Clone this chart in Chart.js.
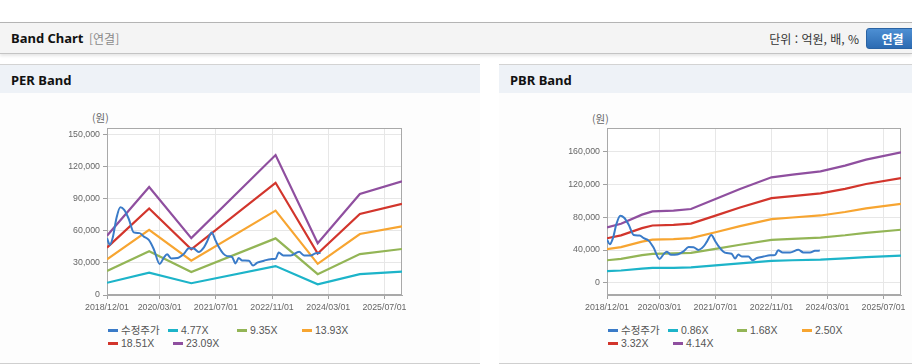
<!DOCTYPE html>
<html lang="ko">
<head>
<meta charset="utf-8">
<script src="https://cdn.jsdelivr.net/npm/chart.js@4.4.0/dist/chart.umd.min.js"></script>
<style>
  body { margin: 0; width: 912px; height: 364px; position: relative; overflow: hidden; background: #fff;
         font-family: "Liberation Sans", "Noto Sans CJK KR", sans-serif; }
  .abs { position: absolute; }
  .topbar { left: 0; top: 22px; width: 912px; height: 30px; background: #f4f4f4;
            border-top: 1px solid #b4b4b4; border-bottom: 1px solid #c4c4c4; box-shadow: 0 2px 3px rgba(0,0,0,0.10); }
  .title { left: 11px; top: 0; font: bold 13px "Noto Sans", "Noto Sans CJK KR", sans-serif; line-height: 31px; color: #111; }
  .sub { left: 89px; top: 0; font: 12px "Noto Sans CJK KR", sans-serif; line-height: 31px; color: #8a8a8a; }
  .unit { right: 53px; top: 0; font: 12px "Noto Sans CJK KR", sans-serif; line-height: 31px; color: #333; }
  .btn { left: 866px; top: 5px; width: 51px; height: 19px; border-radius: 3px; border: 1px solid #2a63a3;
         background: linear-gradient(#4d8fd3, #2c6bb2); color: #fff; font: bold 12px "Noto Sans CJK KR", sans-serif;
         text-align: center; line-height: 19px; }
  .panel { top: 64px; height: 298px; border-top: 1px solid #d3d3d3; border-bottom: 1px solid #cfcfcf; background: #fdfdfd; }
  .phead { left: 0; top: 0; right: 0; height: 28px; background: #eef2f7; }
  .phead span { position: absolute; left: 11px; top: 0; font: bold 13px "Noto Sans", sans-serif; line-height: 30px; color: #111; }
  .unitlbl { font: 10.5px "Noto Sans CJK KR", sans-serif; color: #666; }
  .leg { font: 10.5px "Liberation Sans", "Noto Sans CJK KR", sans-serif; color: #555; white-space: nowrap; line-height: 12px; }
  .leg i { display: inline-block; width: 10px; height: 3px; vertical-align: middle; margin-right: 3px; position: relative; top: -1px; }
  canvas { position: absolute; }
</style>
</head>
<body>
<div class="abs topbar">
  <div class="abs title">Band Chart</div>
  <div class="abs sub">[연결]</div>
  <div class="abs unit">단위 : 억원, 배, %</div>
  <div class="abs btn">연결</div>
</div>

<div class="abs panel" style="left:0;width:480px;"><div class="abs phead"><span>PER Band</span></div></div>
<div class="abs panel" style="left:499px;width:413px;"><div class="abs phead"><span>PBR Band</span></div></div>

<div class="abs unitlbl" style="left:92px;top:110px;">(원)</div>
<div class="abs unitlbl" style="left:592px;top:111px;">(원)</div>

<canvas id="perChart" width="480" height="230" style="left:0;top:93px;"></canvas>
<canvas id="pbrChart" width="413" height="230" style="left:499px;top:93px;"></canvas>

<div id="perLegend"></div>
<div id="pbrLegend"></div>

<script>
// x values are months counted from 2018/12/01
const xTickLabels = ["2018/12/01", "2020/03/01", "2021/07/01", "2022/11/01", "2024/03/01", "2025/07/01"];

// adjusted price (수정주가)
const priceMonths = [0, 0.8, 1.7, 2.7, 3.8, 4.9, 6.2, 7.6, 9.3, 10.5, 11.9, 13.3, 15.0, 16.2, 17.1, 18.3,
  20.0, 21.9, 23.3, 24.7, 26.1, 27.6, 28.5, 29.8, 30.9, 31.8, 33.1, 34.2, 35.6, 36.6, 37.5, 38.5,
  40.4, 41.6, 42.8, 44.7, 46.6, 48.0, 48.9, 50.2, 52.3, 54.7, 56.1, 58.0, 59.4, 60.8];
const priceValues = [53000, 47000, 54500, 72000, 82000, 79500, 71000, 58500, 57800, 54500, 51500, 43000, 29000, 35000, 38000, 34200,
  34500, 38500, 43600, 43400, 40200, 44500, 50000, 58500, 51000, 45000, 38600, 36300, 35500, 29500, 34500, 32200,
  32000, 27500, 30200, 32000, 33500, 33800, 39600, 37000, 37000, 40300, 37000, 37000, 39000, 39300];

// PER band
const perLabels = ["4.77X", "9.35X", "13.93X", "18.51X", "23.09X"];
const perMonths = [0, 12, 24, 48, 60, 72, 84];
const per477 = [11400, 20800, 11000, 27000, 10000, 19500, 21900];
const per935 = [22400, 40900, 21500, 52900, 19500, 38200, 43000];
const per1393 = [33400, 60900, 32000, 78800, 29100, 57000, 64100];
const per1851 = [44300, 80900, 42600, 104800, 38700, 75700, 85100];
const per2309 = [55300, 100900, 53100, 130700, 48300, 94400, 106200];
const perYTicks = [0, 30000, 60000, 90000, 120000, 150000];

// PBR band
const pbrLabels = ["0.86X", "1.68X", "2.50X", "3.32X", "4.14X"];
const pbrMonths = [0, 4, 10, 13, 19, 24, 31, 38, 47, 53, 61, 68, 74, 84];
const pbr086 = [14100, 15000, 17300, 18100, 18300, 18700, 21300, 23800, 26800, 27500, 28300, 29800, 31300, 33200];
const pbr168 = [27500, 29300, 33800, 35400, 35800, 36600, 41500, 46500, 52400, 53600, 55300, 58100, 61100, 64800];
const pbr250 = [41000, 43600, 50300, 52700, 53300, 54500, 61800, 69300, 77900, 79800, 82300, 86500, 91000, 96400];
const pbr332 = [54400, 57900, 66800, 70000, 70700, 72300, 82100, 92000, 103500, 106000, 109300, 114900, 120800, 128000];
const pbr414 = [67800, 72200, 83300, 87300, 88200, 90200, 102400, 114700, 129000, 132200, 136300, 143300, 150600, 159600];
const pbrYTicks = [0, 40000, 80000, 120000, 160000];

const priceColor = "#3a7bc8";
const bandColors = ["#1db4c9", "#93b556", "#f7a531", "#d2352c", "#8f4f9f"];
const tickFont = { family: "Liberation Sans", size: 8.8 };

function labelToMonth(label) {
  const p = label.split("/");
  return (parseInt(p[0]) - 2018) * 12 + parseInt(p[1]) - 12;
}

function toPoints(xs, ys) {
  return xs.map((x, i) => ({ x: x, y: ys[i] }));
}

const plotFrame = {
  id: "plotFrame",
  beforeDraw(chart) {
    const a = chart.chartArea;
    chart.ctx.save();
    chart.ctx.fillStyle = "#ffffff";
    chart.ctx.fillRect(a.left, a.top, a.right - a.left, a.bottom - a.top);
    chart.ctx.restore();
  },
  beforeDatasetsDraw(chart) {
    const a = chart.chartArea;
    const ctx = chart.ctx;
    ctx.save();
    ctx.strokeStyle = "#a9a9a9";
    ctx.lineWidth = 1;
    ctx.strokeRect(Math.round(a.left) + 0.5, Math.round(a.top) + 0.5, Math.round(a.right - a.left) - 1, Math.round(a.bottom - a.top) - 1);
    ctx.restore();
  }
};

function createChart(id, bandMonths, bandData, bandLabels, yMin, yMax, yTicks, axisWidth, rightPad) {
  const datasets = [{
    label: "수정주가",
    data: toPoints(priceMonths, priceValues),
    borderColor: priceColor,
    borderWidth: 2,
    pointRadius: 0,
    cubicInterpolationMode: "monotone",
    order: 0
  }];
  bandData.forEach((vals, i) => {
    datasets.push({
      label: bandLabels[i],
      data: toPoints(bandMonths, vals),
      borderColor: bandColors[i],
      borderWidth: 2.2,
      pointRadius: 0,
      tension: 0,
      order: 1
    });
  });

  return new Chart(document.getElementById(id), {
    type: "line",
    data: { datasets: datasets },
    options: {
      responsive: false,
      animation: false,
      devicePixelRatio: 1,
      layout: { padding: { left: 0, top: 35, right: rightPad, bottom: 0 } },
      plugins: { legend: { display: false }, tooltip: { enabled: false } },
      scales: {
        x: {
          type: "linear",
          min: 0,
          max: 84,
          afterBuildTicks: (s) => { s.ticks = xTickLabels.map((l) => ({ value: labelToMonth(l) })); },
          afterFit: (s) => { s.height = 28; },
          ticks: {
            callback: (v, i) => xTickLabels[i],
            font: tickFont, color: "#666", padding: 3, maxRotation: 0, autoSkip: false
          },
          grid: { color: "#e7e7e7", tickLength: 4, tickColor: "#a0a0a0" },
          border: { color: "#a9a9a9" }
        },
        y: {
          min: yMin,
          max: yMax,
          afterBuildTicks: (s) => { s.ticks = yTicks.map((v) => ({ value: v })); },
          afterFit: (s) => { s.width = axisWidth; },
          ticks: {
            callback: (v) => v.toLocaleString("en-US"),
            font: tickFont, color: "#666", padding: 3
          },
          grid: { color: "#e7e7e7", tickLength: 4, tickColor: "#a0a0a0" },
          border: { color: "#a9a9a9" }
        }
      }
    },
    plugins: [plotFrame]
  });
}

function buildLegend(id, left, bandLabels) {
  const offsets = [[1, 330], [61, 330], [130, 330], [195, 330], [1, 343], [66, 343]];
  const names = ["수정주가"].concat(bandLabels);
  const colors = [priceColor].concat(bandColors);
  const box = document.getElementById(id);
  names.forEach((n, i) => {
    const d = document.createElement("div");
    d.className = "abs leg";
    d.style.left = (left + offsets[i][0]) + "px";
    d.style.top = (offsets[i][1] - 6) + "px";
    d.innerHTML = '<i style="background:' + colors[i] + '"></i>' + n;
    box.appendChild(d);
  });
}

createChart("perChart", perMonths, [per477, per935, per1393, per1851, per2309], perLabels, 0, 156000, perYTicks, 107, 78);
createChart("pbrChart", pbrMonths, [pbr086, pbr168, pbr250, pbr332, pbr414], pbrLabels, -15000, 189300, pbrYTicks, 108, 11);
buildLegend("perLegend", 107, perLabels);
buildLegend("pbrLegend", 607, pbrLabels);
</script>
</body>
</html>
